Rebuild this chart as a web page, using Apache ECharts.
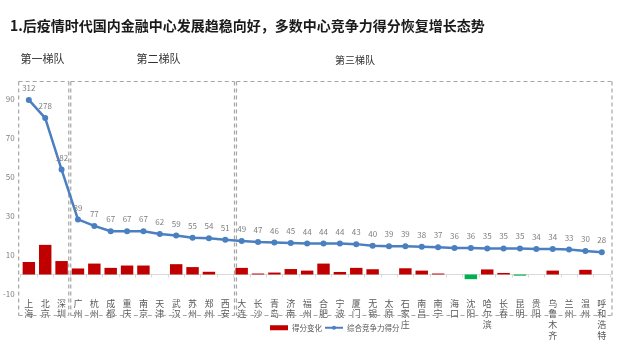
<!DOCTYPE html>
<html>
<head>
<meta charset="utf-8">
<script src="https://cdn.jsdelivr.net/npm/echarts@6/dist/echarts.min.js"></script>
<style>
  html, body { margin: 0; padding: 0; background: #fff; }
  #chart { width: 622px; height: 349px; }
</style>
</head>
<body>
<div id="chart"></div>
<script>
// Cities, ordered by composite competitiveness score
const cities = ['上海', '北京', '深圳',
  '广州', '杭州', '成都', '重庆', '南京', '天津', '武汉', '苏州', '郑州', '西安',
  '大连', '长沙', '青岛', '济南', '福州', '合肥', '宁波', '厦门', '无锡', '太原',
  '石家庄', '南昌', '南宁', '海口', '沈阳', '哈尔滨', '长春', '昆明', '贵阳',
  '乌鲁木齐', '兰州', '温州', '呼和浩特'];

// 综合竞争力得分
const compositeScore = [312, 278, 182,
  89, 77, 67, 67, 67, 62, 59, 55, 54, 51,
  49, 47, 46, 45, 44, 44, 44, 43, 40, 39,
  39, 38, 37, 36, 36, 35, 35, 35, 34,
  34, 33, 30, 28];

// 得分变化
const scoreChange = [6.4, 15.2, 6.9,
  3.1, 5.6, 3.4, 4.6, 4.6, 0, 5.3, 3.8, 1.4, 0,
  3.4, 0.5, 1.0, 2.8, 2.0, 5.6, 1.3, 3.4, 2.7, 0,
  3.2, 2.0, 0.5, 0, -2.4, 2.6, 0.8, -0.6, 0,
  2.0, 0, 2.4, 0];

// Left axis tick labels
const leftTicks = [-10, 10, 30, 50, 70, 90];

// Tier groups (index ranges into cities)
const tiers = [
  { name: '第一梯队', from: 0, to: 2 },
  { name: '第二梯队', from: 3, to: 12 },
  { name: '第三梯队', from: 13, to: 35 }
];

const FONT = '"Noto Sans CJK SC", "Noto Sans", sans-serif';
const RED = '#C00000';
const GREEN = '#00B050';
const BLUE = '#4A7FC0';

const chart = echarts.init(document.getElementById('chart'), null, { renderer: 'canvas' });

const option = {
  backgroundColor: '#ffffff',
  animation: false,
  textStyle: { fontFamily: FONT },
  title: {
    text: '1.后疫情时代国内金融中心发展趋稳向好，多数中心竞争力得分恢复增长态势',
    left: 5,
    top: 14,
    textStyle: { fontSize: 14, fontWeight: 'bold', color: '#1a1a1a', fontFamily: FONT }
  },
  legend: {
    left: 265,
    top: 319,
    itemWidth: 18,
    itemHeight: 5,
    itemGap: 2,
    textStyle: { fontSize: 7.5, color: '#595959', fontFamily: FONT, padding: [0, 0, 0, -1] },
    data: [
      { name: '得分变化', icon: 'rect' },
      { name: '综合竞争力得分' }
    ]
  },
  grid: { left: 17, right: 12, top: 79.5, bottom: 55, containLabel: false },
  xAxis: {
    type: 'category',
    data: cities,
    axisLine: { onZero: true, onZeroAxisIndex: 0, lineStyle: { color: '#d9d9d9', width: 1 } },
    axisTick: { show: true, alignWithLabel: false, length: 3, lineStyle: { color: '#d9d9d9' } },
    axisLabel: {
      interval: 0,
      margin: 4,
      fontSize: 9,
      lineHeight: 10.7,
      color: '#595959',
      fontFamily: FONT,
      formatter: function (v) { return v.split('').join('\n'); }
    }
  },
  yAxis: [
    {
      type: 'value',
      min: -10,
      max: 100,
      axisLine: { show: false },
      axisTick: { show: false },
      splitLine: { show: false },
      axisLabel: {
        customValues: leftTicks,
        margin: 6,
        fontSize: 8,
        color: '#7f7f7f',
        fontFamily: FONT
      }
    },
    {
      type: 'value',
      min: -50,
      max: 350,
      show: false,
      splitLine: { show: false }
    }
  ],
  series: [
    {
      name: '得分变化',
      type: 'bar',
      yAxisIndex: 0,
      barCategoryGap: '24%',
      itemStyle: { color: RED },
      data: scoreChange.map(function (v) {
        return v < 0 ? { value: v, itemStyle: { color: GREEN } } : v;
      }),
      z: 2
    },
    {
      name: '综合竞争力得分',
      type: 'line',
      yAxisIndex: 1,
      data: compositeScore,
      symbol: 'circle',
      symbolSize: 6,
      lineStyle: { color: BLUE, width: 2.5 },
      itemStyle: { color: BLUE },
      label: {
        show: true,
        position: 'top',
        distance: 5,
        fontSize: 8,
        color: '#7f7f7f',
        fontFamily: FONT
      },
      z: 3
    }
  ]
};

chart.setOption(option);

// Dashed tier boxes around each group of categories, plus their captions
function buildTierGraphics() {
  const c0 = chart.convertToPixel({ xAxisIndex: 0 }, 0);
  const c1 = chart.convertToPixel({ xAxisIndex: 0 }, 1);
  const step = c1 - c0;
  const boxTop = 81.5;
  const boxBottom = 315.5;
  const pad = 2;
  const dashStyle = { stroke: '#a6a6a6', lineWidth: 1.2, lineDash: [4, 3] };
  const labelPos = [
    { x: 20.5, y: 58.5, size: 11 },
    { x: 136.5, y: 58.5, size: 11 },
    { x: 335, y: 60, size: 10 }
  ];
  const line = function (x1, y1, x2, y2) {
    return {
      type: 'line', silent: true, z: 1,
      shape: { x1: x1, y1: y1, x2: x2, y2: y2 },
      style: dashStyle
    };
  };
  const elements = [];
  tiers.forEach(function (t, i) {
    let x0 = chart.convertToPixel({ xAxisIndex: 0 }, t.from) - step / 2;
    let x1 = chart.convertToPixel({ xAxisIndex: 0 }, t.to) + step / 2;
    if (i === 0) x0 -= pad;
    if (i === 1) x1 += pad;
    if (i === 2) { x0 += pad; x1 += pad; }
    // neighbouring boxes sit just apart so their shared edge reads as a double dash
    const xl = i === 0 ? x0 : x0 + 1;
    const xr = i === tiers.length - 1 ? x1 : x1 - 1;
    elements.push(line(xl, boxTop, xr, boxTop));
    elements.push(line(xl, boxBottom, xr, boxBottom));
    elements.push(line(xl, boxTop, xl, boxBottom));
    elements.push(line(xr, boxTop, xr, boxBottom));
    elements.push({
      type: 'text',
      silent: true,
      x: labelPos[i].x,
      y: labelPos[i].y,
      style: {
        text: t.name,
        fontSize: labelPos[i].size,
        fontFamily: FONT,
        fill: '#333333',
        verticalAlign: 'middle'
      },
      z: 5
    });
  });
  return elements;
}

chart.setOption({ graphic: buildTierGraphics() });
</script>
</body>
</html>
